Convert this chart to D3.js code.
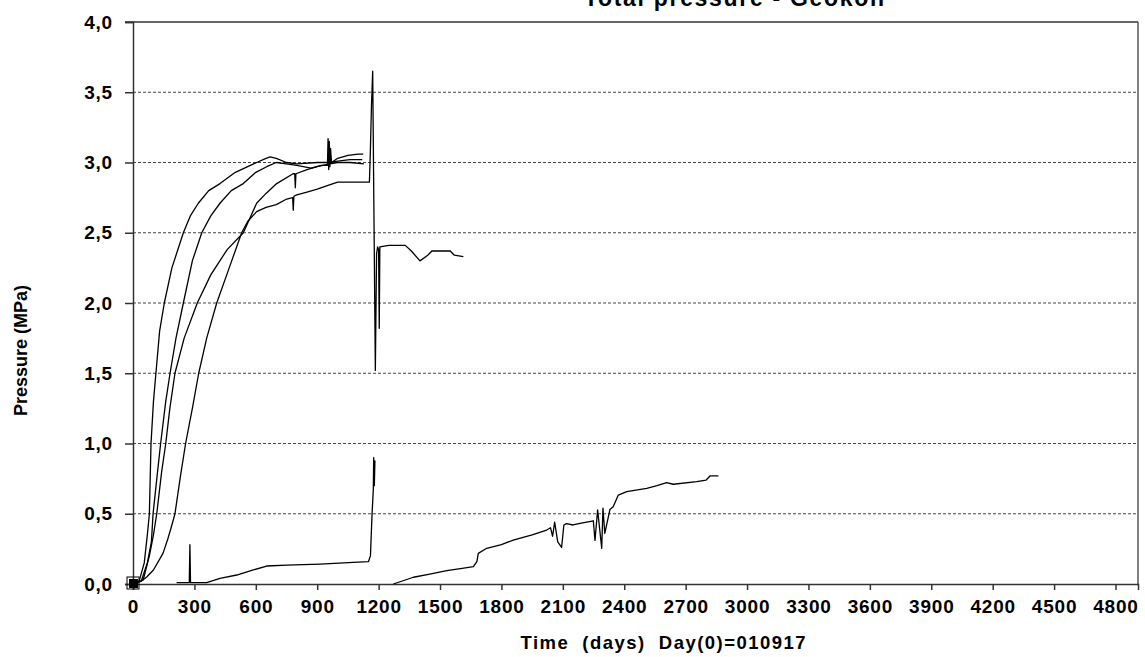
<!DOCTYPE html>
<html>
<head>
<meta charset="utf-8">
<script src="https://cdn.jsdelivr.net/npm/d3@7"></script>
<style>
  html, body { margin: 0; padding: 0; background: #fff; }
  svg { display: block; font-family: "Liberation Sans", Arial, sans-serif; }
</style>
</head>
<body>
<svg id="chart" width="1145" height="657"></svg>
<script>
// ---- Data (days since Day(0), pressure in MPa) ----
const titleText = "Total pressure - Geokon";
const xTitle = "Time  (days)  Day(0)=010917";
const yTitle = "Pressure (MPa)";
const xTicks = [0,300,600,900,1200,1500,1800,2100,2400,2700,3000,3300,3600,3900,4200,4500,4800];
const yTicks = [0,0.5,1.0,1.5,2.0,2.5,3.0,3.5,4.0];

const cell1 = [[0,0],[30,0.02],[55,0.15],[70,0.35],[80,0.5],[88,1.0],[100,1.3],[112,1.5],[130,1.8],[153,2.0],[190,2.25],[246,2.5],[280,2.62],[319,2.71],[370,2.8],[425,2.85],[500,2.93],[604,3.0],[650,3.03],[670,3.04],[700,3.03],[750,3.0],[800,2.99],[900,3.0],[960,3.0],[1000,3.01],[1060,3.02],[1120,3.02]];
const cell2 = [[0,0],[40,0.02],[70,0.15],[90,0.3],[98,0.5],[120,0.8],[135,1.0],[160,1.3],[181,1.5],[210,1.75],[246,2.0],[290,2.3],[336,2.5],[380,2.62],[425,2.71],[480,2.8],[539,2.85],[600,2.93],[653,2.97],[700,3.0],[750,2.99],[800,2.98],[870,2.96],[920,2.98],[950,2.98],[953,3.17],[956,2.95],[959,3.15],[962,2.97],[965,3.1],[970,3.0],[1000,3.03],[1050,3.05],[1100,3.06],[1125,3.06]];
const cell3 = [[0,0],[50,0.03],[80,0.2],[100,0.35],[116,0.5],[140,0.8],[160,1.0],[180,1.25],[205,1.5],[250,1.75],[314,2.0],[380,2.2],[460,2.38],[539,2.5],[604,2.71],[650,2.78],[702,2.85],[782,2.92],[790,2.92],[793,2.82],[796,2.92],[850,2.95],[900,2.97],[960,2.99],[1000,3.0],[1060,3.0],[1128,2.99]];
const cell4 = [[0,0],[40,0.02],[67,0.05],[100,0.1],[147,0.22],[170,0.32],[190,0.42],[205,0.5],[230,0.75],[257,1.0],[290,1.25],[321,1.5],[360,1.75],[409,2.0],[470,2.25],[531,2.5],[560,2.58],[604,2.65],[650,2.68],[700,2.7],[751,2.74],[780,2.75],[783,2.66],[786,2.76],[800,2.77],[850,2.79],[900,2.81],[960,2.84],[1000,2.86],[1155,2.86],[1160,3.1],[1165,3.4],[1171,3.65],[1178,2.5],[1184,1.52],[1190,2.35],[1195,2.4],[1200,2.38],[1203,1.82],[1206,2.4],[1250,2.41],[1330,2.41],[1360,2.37],[1402,2.3],[1440,2.34],[1460,2.37],[1550,2.37],[1570,2.34],[1614,2.33]];
const cell5 = [[213,0.01],[275,0.01],[278,0.28],[281,0.01],[360,0.01],[425,0.04],[507,0.064],[588,0.1],[653,0.128],[751,0.135],[914,0.142],[1076,0.154],[1150,0.159],[1160,0.2],[1168,0.5],[1174,0.67],[1176,0.9],[1179,0.7],[1182,0.88]];
const cell6 = [[1272,0.0],[1370,0.048],[1450,0.07],[1533,0.095],[1600,0.11],[1663,0.123],[1680,0.16],[1687,0.218],[1728,0.254],[1800,0.28],[1858,0.313],[1950,0.35],[2021,0.384],[2040,0.4],[2050,0.34],[2060,0.44],[2075,0.3],[2094,0.26],[2105,0.42],[2118,0.43],[2150,0.42],[2184,0.432],[2249,0.45],[2257,0.31],[2270,0.527],[2290,0.254],[2296,0.54],[2305,0.36],[2330,0.53],[2346,0.55],[2371,0.633],[2412,0.657],[2510,0.681],[2560,0.7],[2607,0.721],[2640,0.71],[2754,0.728],[2800,0.74],[2819,0.769],[2860,0.769]];
const series = [cell1, cell2, cell3, cell4, cell5, cell6];
const originMarker = [[0,0]];

// ---- Layout ----
const svg = d3.select("#chart");
const x = d3.scaleLinear().domain([0, 4910]).range([133, 1138]);
const y = d3.scaleLinear().domain([0, 4]).range([584, 22]);
const fmt = d => d.toFixed(1).replace(".", ",");

// gridlines
svg.append("g").selectAll("line")
  .data(yTicks.filter(v => v > 0 && v < 4))
  .join("line")
  .attr("x1", x(0)).attr("x2", x.range()[1])
  .attr("y1", d => y(d)).attr("y2", d => y(d))
  .attr("stroke", "#444").attr("stroke-width", 1)
  .attr("stroke-dasharray", "3,2");

// frame (top and right)
svg.append("line").attr("x1", x(0) - 8).attr("x2", x.range()[1]).attr("y1", y(4)).attr("y2", y(4))
  .attr("stroke", "#666").attr("stroke-width", 2);
svg.append("line").attr("x1", x.range()[1]).attr("x2", x.range()[1]).attr("y1", y(4)).attr("y2", y(0))
  .attr("stroke", "#555").attr("stroke-width", 1.5);

// x axis
const xAxis = svg.append("g").attr("transform", `translate(0,${y(0)})`)
  .call(d3.axisBottom(x).tickValues(xTicks).tickSize(6).tickPadding(10).tickFormat(d3.format("d")));
xAxis.select(".domain").attr("stroke", "#333").attr("stroke-width", 1.5);
xAxis.selectAll(".tick line").attr("stroke", "#333").attr("stroke-width", 1.5);
xAxis.selectAll("text").attr("font-size", 19).attr("font-weight", "bold")
  .attr("fill", "#000").attr("font-family", "Liberation Sans, Arial, sans-serif")
  .style("letter-spacing", "0.8px");

// y axis
const yAxis = svg.append("g").attr("transform", `translate(${x(0)},0)`)
  .call(d3.axisLeft(y).tickValues(yTicks).tickSize(8).tickPadding(12).tickFormat(fmt));
yAxis.select(".domain").attr("stroke", "#333").attr("stroke-width", 1.5);
yAxis.selectAll(".tick line").attr("stroke", "#333").attr("stroke-width", 1.5);
yAxis.selectAll("text").attr("font-size", 19).attr("font-weight", "bold")
  .attr("fill", "#000").attr("font-family", "Liberation Sans, Arial, sans-serif")
  .style("letter-spacing", "0.8px");

// series lines
const line = d3.line().x(d => x(d[0])).y(d => y(d[1]));
svg.append("g").selectAll("path")
  .data(series)
  .join("path")
  .attr("d", line)
  .attr("fill", "none")
  .attr("stroke", "#000")
  .attr("stroke-width", 1.3)
  .attr("stroke-linejoin", "round");

// origin marker
const mk = svg.append("g");
mk.selectAll("rect.o").data(originMarker).join("rect")
  .attr("x", d => x(d[0]) - 6).attr("y", d => y(d[1]) - 7).attr("width", 12).attr("height", 12)
  .attr("fill", "none").attr("stroke", "#000").attr("stroke-width", 1);
mk.selectAll("rect.f").data(originMarker).join("rect")
  .attr("x", d => x(d[0]) - 4).attr("y", d => y(d[1]) - 5).attr("width", 9).attr("height", 9)
  .attr("fill", "#000");

// titles
svg.append("text").attr("x", 734).attr("y", 6).attr("text-anchor", "middle")
  .attr("font-size", 23).attr("font-weight", "bold").attr("textLength", 300)
  .attr("lengthAdjust", "spacing").text(titleText);
svg.append("text").attr("x", 663).attr("y", 649).attr("text-anchor", "middle")
  .attr("font-size", 18.5).attr("font-weight", "bold").attr("textLength", 285)
  .attr("lengthAdjust", "spacing").style("white-space", "pre").text(xTitle);
svg.append("text").attr("transform", "translate(27,350.5) rotate(-90)").attr("text-anchor", "middle")
  .attr("font-size", 18).attr("font-weight", "bold").text(yTitle);
</script>
</body>
</html>
